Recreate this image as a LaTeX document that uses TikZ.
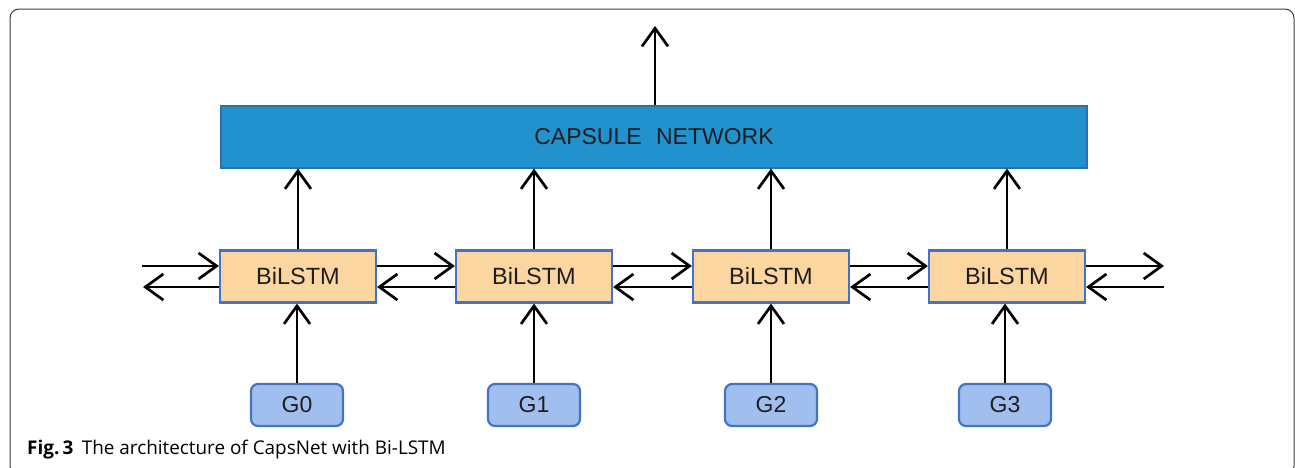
\documentclass[tikz,border=0pt]{standalone}
\usepackage{fontspec}
\setmainfont{Liberation Sans}
\newfontfamily\capfont{Open Sans}
\usetikzlibrary{arrows.meta}
\definecolor{capfill}{RGB}{34,146,206}
\definecolor{capline}{RGB}{46,110,175}
\definecolor{lstmfill}{RGB}{251,214,160}
\definecolor{boxline}{RGB}{68,114,196}
\definecolor{gfill}{RGB}{160,191,238}
\definecolor{txt}{RGB}{30,30,30}
\definecolor{framec}{RGB}{60,60,60}
\tikzset{
  arr/.style={line width=2.7pt, black, -{Straight Barb[length=18pt,width=26pt,line width=2.7pt]}},
  capbox/.style={draw=capline, line width=1.2pt, fill=capfill, minimum width=866pt, minimum height=62pt, inner sep=0pt, text=txt, font=\fontsize{23}{25}\selectfont},
  lstmbox/.style={draw=boxline, line width=2.2pt, fill=lstmfill, minimum width=156pt, minimum height=52pt, inner sep=0pt, text=txt, font=\fontsize{23.5}{25}\selectfont},
  gbox/.style={draw=boxline, line width=2.2pt, fill=gfill, rounded corners=7pt, minimum width=92pt, minimum height=42pt, inner sep=0pt, text=txt, font=\fontsize{23}{25}\selectfont},
}
\begin{document}
\begin{tikzpicture}[x=1pt,y=-1pt]
\useasboundingbox (0,0) rectangle (1295,467);
\begin{scope}
\clip (0,0) rectangle (1295,467);
\draw[framec, line width=1pt, rounded corners=9pt] (10,9) rectangle (1294,475);
\end{scope}
% capsule
\node[capbox] (cap) at (654,137) {CAPSULE\hspace{0.35em} NETWORK};
\coordinate (out) at (655,26);
\draw[arr] (cap.north -| out) -- (out);
% BiLSTM
\node[lstmbox] (b1) at (298,276.5) {BiLSTM};
\node[lstmbox] (b2) at (534,276.5) {BiLSTM};
\node[lstmbox] (b3) at (771,276.5) {BiLSTM};
\node[lstmbox] (b4) at (1007,276.5) {BiLSTM};
% G nodes
\node[gbox] (g0) at (297,405) {G0};
\node[gbox] (g1) at (534,405) {G1};
\node[gbox] (g2) at (771,405) {G2};
\node[gbox] (g3) at (1005,405) {G3};
% vertical arrows
\foreach \b/\g in {b1/g0,b2/g1,b3/g2,b4/g3}{
  \draw[arr] (\b.north) -- (\b.north |- cap.south);
  \draw[arr] (\g.north) -- (\g.north |- \b.south);
}
% horizontal arrows
\coordinate (lin) at (142,266);
\coordinate (lout) at (143,287);
\coordinate (rout) at (1164,266);
\coordinate (rin) at (1164,287);
\draw[arr] (lin) -- (lin -| b1.west);
\draw[arr] (lout -| b1.west) -- (lout);
\foreach \a/\c in {b1/b2,b2/b3,b3/b4}{
  \draw[arr] ([yshift=10.5pt]\a.east) -- ([yshift=10.5pt]\c.west);
  \draw[arr] ([yshift=-10.5pt]\c.west) -- ([yshift=-10.5pt]\a.east);
}
\draw[arr] (rout -| b4.east) -- (rout);
\draw[arr] (rin) -- (rin -| b4.east);
% caption
\node[anchor=base west, inner sep=0pt, text=black, font=\capfont\fontsize{18.9}{21}\selectfont] (caption) at (27,454) {\textbf{Fig.\,3}\hspace{0.45em}The architecture of CapsNet with Bi-LSTM};
\end{tikzpicture}
\end{document}
